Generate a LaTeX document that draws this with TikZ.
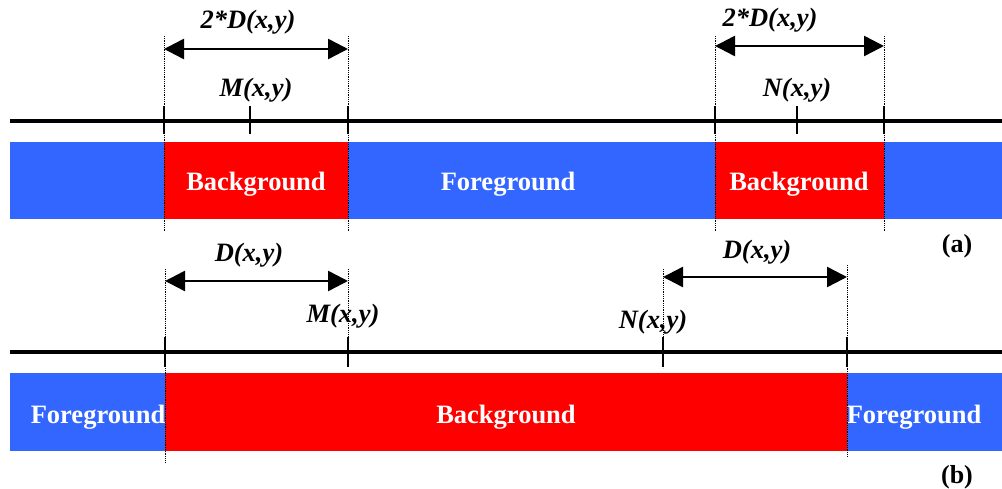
\documentclass[tikz,border=0pt]{standalone}
\usepackage{fontspec}
\setmainfont{Liberation Serif}
\usetikzlibrary{arrows.meta}
\definecolor{fgblue}{HTML}{3366FF}
\definecolor{bgred}{HTML}{FF0000}
\begin{document}
\begin{tikzpicture}[x=1pt,y=-1pt,
  bar/.style={draw=none,inner sep=0pt,outer sep=0pt,anchor=north west},
  barlbl/.style={text=white,font=\fontsize{26.5}{30}\selectfont\bfseries,anchor=base,inner sep=0pt},
  dimlbl/.style={font=\fontsize{26.5}{30}\selectfont\bfseries\itshape,anchor=base,inner sep=0pt},
  caplbl/.style={font=\fontsize{26}{30}\selectfont\bfseries,anchor=base,inner sep=0pt},
  axisline/.style={line width=3.5pt},
  tickmark/.style={line width=2pt},
  guide/.style={densely dotted,line width=0.8pt},
  dimarrow/.style={line width=2.5pt,{Triangle[length=20pt,width=20pt]}-{Triangle[length=20pt,width=20pt]}},
]
\useasboundingbox (0,0) rectangle (1002,489);

% ---------- (a) ----------
\node[bar,fill=fgblue,minimum width=992pt,minimum height=77pt] (abar) at (10,142) {};
\node[bar,fill=bgred,minimum width=184pt,minimum height=77pt] (abg1) at (164,142) {};
\node[bar,fill=bgred,minimum width=169pt,minimum height=77pt] (abg2) at (715,142) {};
\node[barlbl] (abg1t) at (256,191) {Background};
\node[barlbl] (afgt) at (508,191) {Foreground};
\node[barlbl] (abg2t) at (799,191) {Background};

\coordinate (aL) at (10,121);
\coordinate (aR) at (1002,121);
\draw[axisline] (aL) -- (aR);

\foreach \n/\x in {a1/164,a2/348,a3/715,a4/884,aM/250,aN/797}{
  \coordinate (\n t) at (\x,106);
  \coordinate (\n b) at (\x,134);
  \draw[tickmark] (\n t) -- (\n b);
}
\foreach \n/\x in {a1/164,a2/348,a3/715,a4/884}{
  \coordinate (\n gt) at (\x,36);
  \coordinate (\n gb) at (\x,232);
  \draw[guide] (\n gt) -- (\n gb);
}

\coordinate (aarr1a) at (164,49);
\coordinate (aarr1b) at (348,49);
\coordinate (aarr2a) at (715,46);
\coordinate (aarr2b) at (884,46);
\draw[dimarrow] (aarr1a) -- (aarr1b);
\draw[dimarrow] (aarr2a) -- (aarr2b);

\node[dimlbl] (ad1) at (248,29) {2*D(x,y)};
\node[dimlbl] (ad2) at (770,27) {2*D(x,y)};
\node[dimlbl] (aMl) at (256,97) {M(x,y)};
\node[dimlbl] (aNl) at (797,97) {N(x,y)};
\node[caplbl] (acap) at (957,253) {(a)};

% ---------- (b) ----------
\node[bar,fill=fgblue,minimum width=155pt,minimum height=78pt] (bfg1) at (10,373) {};
\node[bar,fill=bgred,minimum width=682pt,minimum height=78pt] (bbg) at (165,373) {};
\node[bar,fill=fgblue,minimum width=155pt,minimum height=78pt] (bfg2) at (847,373) {};
\node[barlbl] (bfg1t) at (98,423) {Foreground};
\node[barlbl] (bbgt) at (506,423) {Background};
\node[barlbl] (bfg2t) at (914,423) {Foreground};

\coordinate (bL) at (10,352);
\coordinate (bR) at (1002,352);
\draw[axisline] (bL) -- (bR);

\foreach \n/\x in {b1/165,b2/348,b3/663,b4/847}{
  \coordinate (\n t) at (\x,337);
  \coordinate (\n b) at (\x,367);
  \draw[tickmark] (\n t) -- (\n b);
}
\coordinate (b1gt) at (165,269); \coordinate (b1gb) at (165,463);
\coordinate (b2gt) at (348,269); \coordinate (b2gb) at (348,367);
\coordinate (b3gt) at (663,269); \coordinate (b3gb) at (663,368);
\coordinate (b4gt) at (847,265); \coordinate (b4gb) at (847,456);
\draw[guide] (b1gt) -- (b1gb);
\draw[guide] (b2gt) -- (b2gb);
\draw[guide] (b3gt) -- (b3gb);
\draw[guide] (b4gt) -- (b4gb);

\coordinate (barr1a) at (165,281);
\coordinate (barr1b) at (348,281);
\coordinate (barr2a) at (663,277);
\coordinate (barr2b) at (847,277);
\draw[dimarrow] (barr1a) -- (barr1b);
\draw[dimarrow] (barr2a) -- (barr2b);

\node[dimlbl] (bd1) at (249,262) {D(x,y)};
\node[dimlbl] (bd2) at (757,259) {D(x,y)};
\node[dimlbl] (bMl) at (343,323) {M(x,y)};
\node[dimlbl] (bNl) at (653,328) {N(x,y)};
\node[caplbl] (bcap) at (957,483) {(b)};
\end{tikzpicture}
\end{document}
